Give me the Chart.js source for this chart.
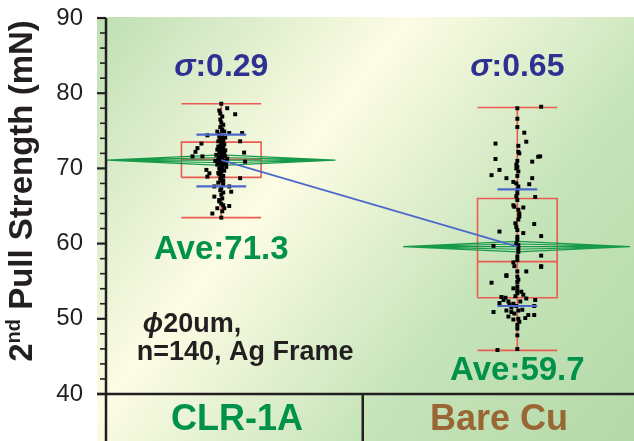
<!DOCTYPE html>
<html><head><meta charset="utf-8">
<script src="https://cdn.jsdelivr.net/npm/chart.js@4/dist/chart.umd.min.js"></script>
<style>html,body{margin:0;padding:0;background:#fff;overflow:hidden}#wrap{width:634px;height:441px;position:relative}</style>
</head><body><div id="wrap"><canvas id="c" width="634" height="441"></canvas></div>
<script>
// ---------- data ----------
const categories = ['CLR-1A', 'Bare Cu'];
const yTickValues = [40, 50, 60, 70, 80, 90];
const groupPos = [0.44, 1.57];
const whiskerLow = [63.45, 45.8];
const boxQ1 = [68.8, 52.8];
const boxMedian = [71.2, 57.6];
const boxQ3 = [73.5, 66.0];
const whiskerHigh = [78.6, 78.1];
const means = [71.1, 59.6];
const sdLow = [67.6, 51.7];
const sdHigh = [74.5, 67.2];
const sigmaLabels = ['0.29', '0.65'];
const aveLabels = ['71.3', '59.7'];

const clrValues = [78.6,78.0,77.2,77.7,77.3,76.9,76.5,76.1,75.8,75.5,75.2,74.9,74.9,74.7,74.7,74.4,74.5,74.3,74.1,73.9,73.7,73.6,73.6,73.4,73.3,73.2,73.0,72.7,72.8,72.5,72.4,72.2,72.1,72.1,72.0,71.9,71.8,71.6,71.6,71.6,71.5,71.4,71.3,71.2,71.1,70.9,71.0,70.8,70.6,70.5,70.3,70.2,70.0,69.9,69.8,69.7,69.35,69.5,68.9,69.2,69.0,68.7,68.6,68.3,68.1,67.9,67.6,67.6,67.4,67.1,66.9,66.8,66.5,66.25,66.0,65.8,65.6,65.3,65.0,65.1,64.7,64.7,64.0,64.3,63.45,72.6,72.3,71.7,70.9,70.4,69.6,68.8,73.8,74.2,75.0,72.9,72.4,71.0,70.7,69.4,68.4];
const clrJitter = [0,6,14,-2,-1,1,-1,0,2,-1,1,3,-4,8,21,-14,-2,1,4,-1,2,19,-3,0,-20,3,-1,-24,2,-4,1,-26,23,-2,3,0,-5,-29,-19,4,-2,1,6,-3,0,24,3,-1,2,-4,0,5,-2,1,-15,3,-12,0,-14,-2,2,19,-1,1,-3,2,-7,8,0,-1,10,2,0,-7,1,-2,-2,0,8,2,-4,3,-9,1,0,0,-1,2,-2,1,-1,0,1,-2,1,-3,4,-6,5,-3,2];

const cuValues = [78.0,78.2,76.6,74.75,73.3,73.55,72.2,72.0,71.25,71.55,71.6,71.0,70.9,70.5,70.2,69.8,69.1,69.6,69.0,68.7,68.7,68.2,68.0,67.9,67.2,66.7,66.2,65.8,65.1,64.9,64.8,64.5,64.0,63.6,62.6,62.7,62.2,61.6,61.4,61.0,60.9,60.5,59.7,59.8,59.4,58.9,58.4,58.3,56.9,57.5,57.0,56.3,55.7,56.3,55.6,54.9,54.3,53.8,53.4,54.8,54.05,53.6,52.9,52.5,52.1,53.2,52.7,52.5,51.9,52.0,51.7,50.9,51.7,51.1,50.9,51.1,50.5,50.5,50.3,49.9,50.0,49.2,48.7,47.8,45.85,45.98,75.5,73.0,70.0,67.6,66.3,63.2,61.8,60.0,57.8,55.2,53.0,52.3,51.5,51.2,50.7,50.1,49.6,52.8,52.3,55.8,57.0];
const cuJitter = [0,24,0,7,-22,9,1,2,-22,21,23,0,15,-1,0,-18,-26,1,0,-11,15,-4,-1,12,0,0,18,0,-4,-3,6,1,2,2,17,-2,-1,-18,6,24,0,0,-24,1,1,1,24,0,24,-4,-3,9,-11,0,0,0,0,0,0,-26,-4,4,-16,-14,-18,6,9,18,-8,-4,-1,-24,17,-11,-6,1,11,17,-9,-4,1,0,0,0,-20,0,0,1,-1,1,-1,1,0,-1,0,1,-2,3,-6,5,-3,8,2,-12,-9,-11,24];

// ---------- styling constants ----------
const JIT = 1 / 264;          // jitter units -> x units
const BOX_HALF = 0.152;
const SD_HALF = [0.095, 0.076];
const DIAMOND_HALF = 0.436;
const DIAMOND_OFF = [-0.7, -0.35, 0, 0.35, 0.7];
const RED = '#ec5a52', BLUE = '#4c68cc', GREEN = '#17994a', DARKBLUE = '#2e3192', TEXTGREEN = '#00924a', BROWN = '#9a6634', INK = '#231f20';
const FONT = '"Liberation Sans", Arial, Helvetica, sans-serif';

// ---------- build datasets ----------
function pts(vals, jit, g) { return vals.map((v, i) => ({ x: groupPos[g] + jit[i] * JIT, y: v })); }
const gap = { x: null, y: null };
const whiskers = [], boxes = [], sdBars = [], diamonds = [];
for (let g = 0; g < 2; g++) {
  const p = groupPos[g];
  whiskers.push({ x: p, y: whiskerLow[g] }, { x: p, y: whiskerHigh[g] }, gap);
  whiskers.push({ x: p - BOX_HALF, y: whiskerLow[g] }, { x: p + BOX_HALF, y: whiskerLow[g] }, gap);
  whiskers.push({ x: p - BOX_HALF, y: whiskerHigh[g] }, { x: p + BOX_HALF, y: whiskerHigh[g] }, gap);
  boxes.push({ x: p - BOX_HALF, y: boxQ1[g] }, { x: p + BOX_HALF, y: boxQ1[g] }, { x: p + BOX_HALF, y: boxQ3[g] }, { x: p - BOX_HALF, y: boxQ3[g] }, { x: p - BOX_HALF, y: boxQ1[g] }, gap);
  boxes.push({ x: p - BOX_HALF, y: boxMedian[g] }, { x: p + BOX_HALF, y: boxMedian[g] }, gap);
  sdBars.push({ x: p - SD_HALF[g], y: sdLow[g] }, { x: p + SD_HALF[g], y: sdLow[g] }, gap);
  sdBars.push({ x: p - SD_HALF[g], y: sdHigh[g] }, { x: p + SD_HALF[g], y: sdHigh[g] }, gap);
  DIAMOND_OFF.forEach(k => {
    diamonds.push({ x: p - DIAMOND_HALF, y: means[g] }, { x: p, y: means[g] + k }, { x: p + DIAMOND_HALF, y: means[g] }, gap);
  });
}
const meanLine = [{ x: groupPos[0], y: means[0] }, { x: groupPos[1], y: means[1] }];

const lineDs = (data, color, w, order) => ({ type: 'line', data, borderColor: color, borderWidth: w, pointRadius: 0, showLine: true, fill: false, spanGaps: false, order, tension: 0 });

// ---------- plugin ----------
const deco = {
  id: 'deco',
  beforeDraw(chart) {
    const { ctx, chartArea: a } = chart;
    ctx.save();
    ctx.fillStyle = '#fff';
    ctx.fillRect(0, 0, chart.width, chart.height);
    const L = a.left - 9, T = a.top - 1, R = chart.width, B = chart.height;
    const gr = ctx.createLinearGradient(L, T, R, B);
    gr.addColorStop(0, 'rgb(190,223,180)');
    gr.addColorStop(0.36, 'rgb(253,252,228)');
    gr.addColorStop(0.68, 'rgb(198,228,186)');
    gr.addColorStop(1, 'rgb(180,217,168)');
    ctx.fillStyle = gr;
    ctx.fillRect(L, T, R - L, B - T);
    ctx.restore();
  },
  afterDatasetsDraw(chart) {
    const { ctx, chartArea: a, scales } = chart;
    const y = scales.y, x = scales.x;
    ctx.save();
    ctx.strokeStyle = INK;
    ctx.lineWidth = 2.5;
    ctx.beginPath();
    ctx.moveTo(a.left, a.top); ctx.lineTo(a.left, chart.height);
    ctx.moveTo(a.left - 9, a.bottom); ctx.lineTo(chart.width, a.bottom);
    const mid = x.getPixelForValue(0.98);
    ctx.moveTo(mid, a.bottom); ctx.lineTo(mid, chart.height);
    ctx.stroke();
    for (let v = 40; v <= 90; v += 2) {
      const py = y.getPixelForValue(v);
      const major = v % 10 === 0;
      ctx.lineWidth = major ? 2.2 : 1.6;
      ctx.beginPath();
      ctx.moveTo(a.left - (major ? 9 : 6), py); ctx.lineTo(a.left, py);
      ctx.stroke();
    }
    ctx.restore();
  },
  afterDraw(chart) {
    const { ctx, scales } = chart;
    const x = scales.x, y = scales.y;
    ctx.save();
    ctx.textBaseline = 'middle';
    for (let g = 0; g < 2; g++) {
      const cx = x.getPixelForValue(groupPos[g]), cy = y.getPixelForValue(83.5);
      ctx.fillStyle = DARKBLUE;
      const f1 = 'italic bold 32px ' + FONT, f2 = 'bold 32px ' + FONT;
      ctx.font = f1; const w1 = ctx.measureText('σ').width;
      ctx.font = f2; const t2 = ':' + sigmaLabels[g]; const w2 = ctx.measureText(t2).width;
      let sx = cx - (w1 + w2) / 2;
      ctx.textAlign = 'left';
      ctx.font = f1; ctx.fillText('σ', sx, cy);
      ctx.font = f2; ctx.fillText(t2, sx + w1, cy);
    }
    ctx.fillStyle = TEXTGREEN;
    ctx.font = 'bold 33px ' + FONT;
    ctx.textAlign = 'center';
    ctx.fillText('Ave:' + aveLabels[0], x.getPixelForValue(groupPos[0]), y.getPixelForValue(59.15));
    ctx.fillText('Ave:' + aveLabels[1], x.getPixelForValue(groupPos[1]), y.getPixelForValue(43.05));
    ctx.fillStyle = INK;
    ctx.textAlign = 'left';
    const nx = x.getPixelForValue(0.14);
    ctx.font = 'italic bold 27px ' + FONT;
    ctx.fillText('ϕ', nx, y.getPixelForValue(49.2));
    const pw = ctx.measureText('ϕ').width;
    ctx.font = 'bold 27px ' + FONT;
    ctx.fillText('20um,', nx + pw, y.getPixelForValue(49.2));
    ctx.fillText('n=140, Ag Frame', x.getPixelForValue(0.117), y.getPixelForValue(45.45));
    // y title
    ctx.translate(21, 191);
    ctx.rotate(-Math.PI / 2);
    ctx.fillStyle = INK;
    ctx.textBaseline = 'alphabetic';
    const big = 'bold 33px ' + FONT, small = 'bold 20px ' + FONT;
    ctx.font = big; const a1 = ctx.measureText('2').width;
    ctx.font = small; const a2 = ctx.measureText('nd').width;
    ctx.font = big; const a3 = ctx.measureText(' Pull Strength (mN)').width;
    let sx = -(a1 + a2 + a3) / 2;
    ctx.font = big; ctx.fillText('2', sx, 11);
    ctx.font = small; ctx.fillText('nd', sx + a1, -1);
    ctx.font = big; ctx.fillText(' Pull Strength (mN)', sx + a1 + a2, 11);
    ctx.restore();
  }
};

new Chart(document.getElementById('c'), {
  type: 'scatter',
  data: {
    labels: categories,
    datasets: [
      lineDs(meanLine, BLUE, 1.6, 0),
      lineDs(sdBars, BLUE, 2.2, 1),
      { type: 'scatter', data: pts(clrValues, clrJitter, 0), backgroundColor: '#000', borderWidth: 0, pointStyle: 'rect', pointRadius: 2.8, order: 2 },
      { type: 'scatter', data: pts(cuValues, cuJitter, 1), backgroundColor: '#000', borderWidth: 0, pointStyle: 'rect', pointRadius: 2.8, order: 2 },
      lineDs(diamonds, GREEN, 1.2, 3),
      lineDs(boxes, RED, 1.6, 4),
      lineDs(whiskers, RED, 1.6, 5)
    ]
  },
  options: {
    responsive: false,
    devicePixelRatio: 1,
    animation: false,
    layout: { padding: { top: 18, left: 0, right: 0, bottom: 0 } },
    plugins: { legend: { display: false }, tooltip: { enabled: false } },
    scales: {
      x: { type: 'linear', min: 0, max: 2, display: false },
      xc: {
        type: 'category', position: 'bottom', offset: true,
        grid: { display: false, drawTicks: false }, border: { display: false },
        ticks: { padding: 4, font: { family: FONT, size: 36, weight: 'bold' }, color: c => c.index === 0 ? TEXTGREEN : BROWN },
        afterFit: s => { s.height = 47; }
      },
      y: {
        type: 'linear', min: 40, max: 90,
        grid: { display: true, drawOnChartArea: false, drawTicks: true, tickLength: 23, color: 'rgba(0,0,0,0)' }, border: { display: false },
        ticks: { stepSize: 10, padding: 0, color: INK, font: { family: FONT, size: 24 }, callback: v => yTickValues.includes(v) ? String(v) : '' },
        afterFit: s => { s.width = 106; }
      }
    }
  },
  plugins: [deco]
});
</script>
</body></html>
